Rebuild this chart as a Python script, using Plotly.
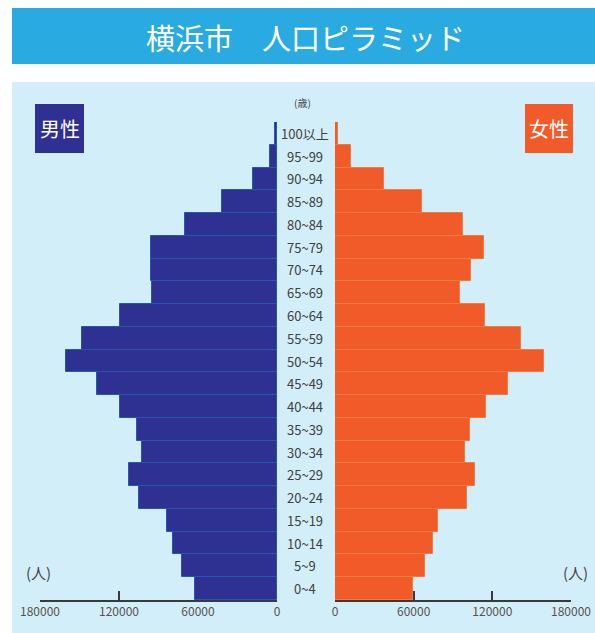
import plotly.graph_objects as go

ages = ["0~4", "5~9", "10~14", "15~19", "20~24", "25~29", "30~34", "35~39",
        "40~44", "45~49", "50~54", "55~59", "60~64", "65~69", "70~74", "75~79",
        "80~84", "85~89", "90~94", "95~99", "100以上"]
male = [62300, 72200, 79000, 83500, 104800, 112400, 102500, 106300,
        119200, 136700, 160300, 148100, 119200, 95000, 95700, 95700,
        69900, 41800, 18200, 5300, 1500]
female = [59500, 68600, 74700, 78600, 100700, 106800, 99200, 103000,
          115200, 132000, 159400, 141900, 114400, 95300, 103700, 113600,
          97600, 66400, 37400, 12200, 2300]
tick_vals = [0, 60000, 120000, 180000]
tick_text = ["0", "60000", "120000", "180000"]

W, H = 595, 633
def px(x):
    return x / W
def py(y):
    return 1 - y / H

FONT = "Noto Sans CJK JP"
MALE_C = "#2e3192"
FEMALE_C = "#f15a29"

fig = go.Figure()
fig.add_trace(go.Bar(y=ages, x=male, orientation="h", xaxis="x", yaxis="y",
                     marker=dict(color=MALE_C, line=dict(color="#2458b0", width=1)),
                     showlegend=False, hoverinfo="x+y"))
fig.add_trace(go.Bar(y=ages, x=female, orientation="h", xaxis="x2", yaxis="y",
                     marker=dict(color=FEMALE_C, line=dict(color="#f47a3a", width=1)),
                     showlegend=False, hoverinfo="x+y"))

axis_common = dict(tickvals=tick_vals, ticktext=tick_text, showline=True,
                   linecolor="#3a3a3a", linewidth=1.5, ticks="inside", ticklen=9,
                   tickwidth=1.5, tickcolor="#3a3a3a", showgrid=False, zeroline=False,
                   tickfont=dict(family=FONT, size=12, color="#5a5048"),
                   layer="below traces", fixedrange=True, automargin=False)

fig.update_layout(
    width=W, height=H, autosize=False,
    margin=dict(l=0, r=0, t=0, b=0, pad=0, autoexpand=False),
    paper_bgcolor="white",
    plot_bgcolor="rgba(0,0,0,0)",
    bargap=0,
    barmode="overlay",
    xaxis=dict(domain=[px(40), px(277)], range=[180000, 0], anchor="y", **axis_common),
    xaxis2=dict(domain=[px(335), px(571)], range=[0, 180000], anchor="y", **axis_common),
    yaxis=dict(domain=[py(600), py(122)], range=[-0.5, 20.5], visible=False,
               type="category", fixedrange=True, automargin=False),
    shapes=[
        dict(type="rect", xref="paper", yref="paper", x0=px(12), x1=1.0,
             y0=py(64), y1=py(8), fillcolor="#29abe2", line=dict(width=0), layer="below"),
        dict(type="rect", xref="paper", yref="paper", x0=px(12), x1=1.0,
             y0=0, y1=py(82), fillcolor="#d2eef9", line=dict(width=0), layer="below"),
        dict(type="rect", xref="paper", yref="paper", x0=px(35), x1=px(84),
             y0=py(153), y1=py(104), fillcolor=MALE_C, line=dict(width=0), layer="below"),
        dict(type="rect", xref="paper", yref="paper", x0=px(525), x1=px(573),
             y0=py(153), y1=py(104), fillcolor=FEMALE_C, line=dict(width=0), layer="below"),
    ],
)

ann = [
    dict(text="横浜市　人口ピラミッド", x=px(305), y=py(37), font=dict(size=29, color="white", family=FONT)),
    dict(text="男性", x=px(59.5), y=py(128.5), font=dict(size=20, color="white", family=FONT)),
    dict(text="女性", x=px(549), y=py(128.5), font=dict(size=20, color="white", family=FONT)),
    dict(text="(歳)", x=px(302), y=py(103), font=dict(size=10, color="#444444", family=FONT)),
    dict(text="(人)", x=px(38), y=py(572), font=dict(size=15, color="#444444", family=FONT)),
    dict(text="(人)", x=px(575), y=py(572), font=dict(size=15, color="#444444", family=FONT)),
]
for a in ann:
    a.update(xref="paper", yref="paper", showarrow=False, xanchor="center", yanchor="middle")
    fig.add_annotation(**a)

for age in ages:
    fig.add_annotation(text=age, x=px(305), y=age, xref="paper", yref="y",
                       showarrow=False, xanchor="center", yanchor="middle",
                       font=dict(size=13, color="#404040", family=FONT))

fig.write_html("out.html", config={"responsive": False, "displayModeBar": False},
               post_script="document.body.style.margin='0';document.body.style.overflow='hidden';")
